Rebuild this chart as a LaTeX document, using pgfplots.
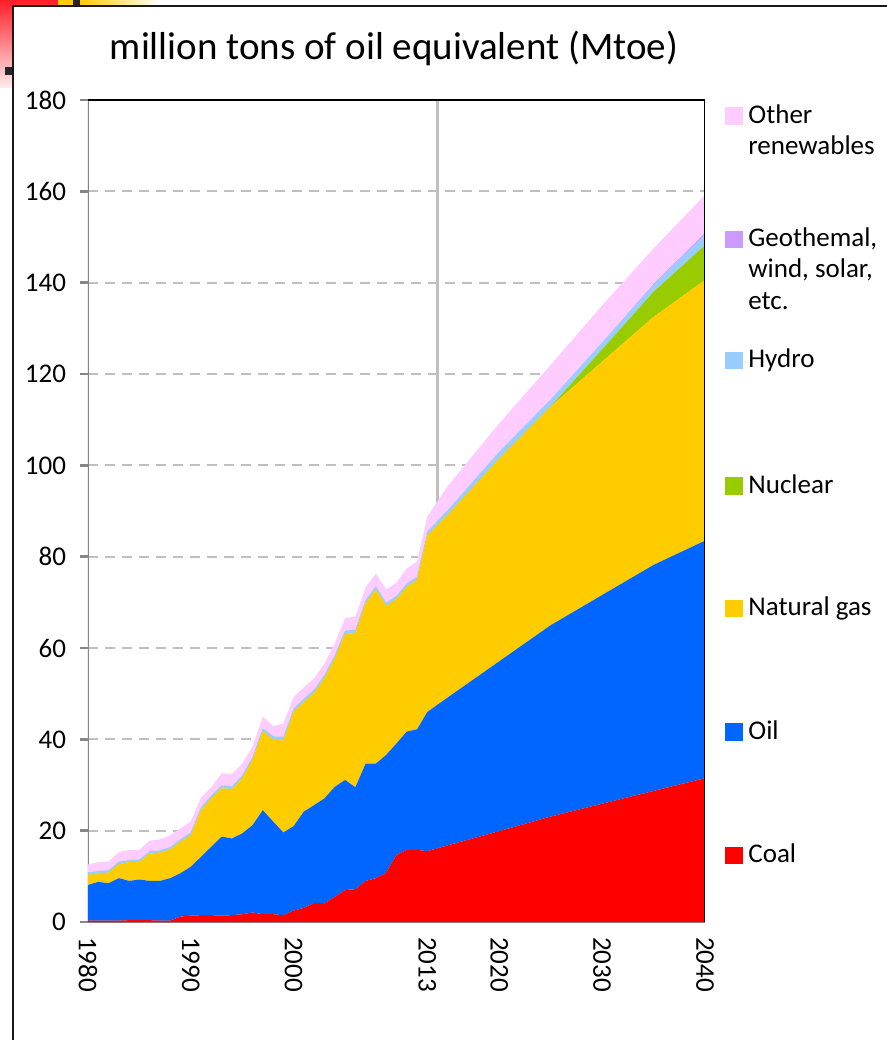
\documentclass[border=0pt]{standalone}
\usepackage{fontspec}
\setmainfont{Carlito}
\usepackage{pgfplots}
\pgfplotsset{compat=1.18}
\usepackage{pgfplotstable}

\definecolor{coal}{RGB}{255,0,0}
\definecolor{oil}{RGB}{0,102,255}
\definecolor{gas}{RGB}{255,204,0}
\definecolor{nuclear}{RGB}{153,204,0}
\definecolor{hydro}{RGB}{153,204,255}
\definecolor{geo}{RGB}{204,153,255}
\definecolor{otherren}{RGB}{255,204,255}
\definecolor{axisgray}{RGB}{134,134,134}
\definecolor{gridgray}{RGB}{191,191,191}

\pgfplotstableread{
year coal oil gas nuclear hydro geo other
1980 0.3 7.8 2.2 0 0.5 0 1.8
1981 0.3 8.5 1.9 0 0.5 0 1.9
1982 0.3 8.2 2.3 0 0.5 0 1.9
1983 0.3 9.3 3.1 0 0.5 0 2.1
1984 0.4 8.6 4.1 0 0.5 0 2.2
1985 0.4 8.9 3.9 0 0.5 0 2.1
1986 0.4 8.6 6.0 0 0.5 0 2.3
1987 0.3 8.7 6.2 0 0.5 0 2.4
1988 0.3 9.3 6.3 0 0.5 0 2.6
1989 1.2 9.5 6.9 0 0.5 0 2.4
1990 1.4 10.7 6.9 0 0.6 0 2.4
1991 1.5 12.8 10.2 0 0.6 0 2.2
1992 1.5 15.0 10.6 0 0.6 0 1.8
1993 1.4 17.3 10.6 0 0.6 0 2.7
1994 1.5 16.8 10.8 0 0.6 0 2.7
1995 1.7 17.7 12.1 0 0.6 0 2.6
1996 2.1 19.1 14.3 0 0.6 0 2.3
1997 1.7 22.8 17.3 0 0.6 0 2.6
1998 1.7 20.3 18.0 0 0.7 0 2.2
1999 1.5 18.1 20.1 0 0.8 0 3.0
2000 2.5 18.5 25.0 0 0.7 0 2.6
2001 3.1 21.1 24.0 0 0.7 0 2.5
2002 4.2 21.4 24.6 0 0.7 0 2.5
2003 4.1 23.0 26.3 0 0.7 0 2.5
2004 5.5 24.1 28.1 0 0.7 0 2.6
2005 7.0 24.1 32.0 0 0.7 0 2.7
2006 7.2 22.3 33.8 0 0.7 0 2.9
2007 9.0 25.7 35.1 0 0.7 0 2.8
2008 9.6 25.1 38.1 0 0.7 0 2.8
2009 10.8 25.8 32.6 0 0.7 0 2.9
2010 14.7 24.4 31.6 0 0.7 0 2.9
2011 15.8 25.9 31.7 0 0.7 0 3.3
2012 15.8 26.4 32.7 0 0.7 0 3.3
2013 15.5 30.5 38.7 0 0.8 0 3.3
2015 16.8 32.4 40.0 0 1.0 0 5.3
2020 19.9 37.2 44.4 0 1.5 0 6.2
2025 23.1 41.9 47.9 0 1.5 0 7.6
2030 25.9 45.7 51.1 2.7 1.5 0 8.1
2035 28.7 49.5 54.3 5.5 1.5 0.2 7.8
2040 31.5 52.0 57.1 7.6 2.3 0.4 8.3
}\data

\newcommand\lfont{\fontsize{13.5}{16}\selectfont}

\begin{document}
\begin{tikzpicture}
\path[use as bounding box] (0,0) rectangle (443.5pt,520pt);
% slide decorations
\shade[top color={rgb,255:red,255;green,30;blue,40}, bottom color={rgb,255:red,255;green,236;blue,238}] (0,476pt) rectangle (29pt,520pt);
\fill[gas] (29pt,517pt) rectangle (36.5pt,520pt);
\fill[black!85] (36.5pt,517pt) rectangle (40pt,520pt);
\shade[left color=gas, right color=white] (40pt,517pt) rectangle (80pt,520pt);
\fill[black!85] (2.5pt,482.5pt) rectangle (6pt,486.5pt);
\fill[white] (6.5pt,0) rectangle (443.5pt,517pt);
\draw[black!90, line width=1pt] (6.5pt,0) -- (6.5pt,517pt) -- (443.5pt,517pt);

\node[anchor=base, font=\fontsize{19.5}{23}\selectfont] at (197pt,490.25pt) {million tons of oil equivalent (Mtoe)};

\begin{axis}[
  at={(44pt,59pt)}, anchor=south west,
  scale only axis, width=308.5pt, height=411pt,
  xmin=1980, xmax=2040, ymin=0, ymax=180,
  stack plots=y,
  axis line style={draw=none},
  ytick={0,20,...,180},
  xtick={1980,1990,2000,2013,2020,2030,2040},
  /pgf/number format/assume math mode=true,
  /pgf/number format/1000 sep={},
  x tick label style={rotate=-90, anchor=west, font=\lfont},
  y tick label style={font=\lfont, xshift=-3.5pt},
  xtick style={draw=none},
  ytick style={draw=axisgray, line width=1.2pt},
  major tick length=4pt,
  tick align=outside,
  tick pos=left,
  ymajorgrids,
  y grid style={draw=gridgray, line width=1.1pt, dash pattern=on 5pt off 3.5pt},
  extra x ticks={2014},
  extra x tick labels={},
  extra x tick style={grid=major, x grid style={draw=gridgray, line width=1.6pt, solid}},
]
\draw[black, line width=1pt] (rel axis cs:0,1) -- (rel axis cs:1,1) -- (rel axis cs:1,0);
\addplot[fill=coal, draw=none] table[x=year, y=coal] {\data} \closedcycle;
\addplot[fill=oil, draw=none] table[x=year, y=oil] {\data} \closedcycle;
\addplot[fill=gas, draw=none] table[x=year, y=gas] {\data} \closedcycle;
\addplot[fill=nuclear, draw=none] table[x=year, y=nuclear] {\data} \closedcycle;
\addplot[fill=hydro, draw=none] table[x=year, y=hydro] {\data} \closedcycle;
\addplot[fill=geo, draw=none] table[x=year, y=geo] {\data} \closedcycle;
\addplot[fill=otherren, draw=none] table[x=year, y=other] {\data} \closedcycle;
\draw[axisgray, line width=1.4pt] (rel axis cs:0,1) -- (rel axis cs:0,0) -- (rel axis cs:1,0);
\draw[axisgray, line width=1.2pt] (rel axis cs:0,0) -- ++(0,-4pt)
  (axis cs:2014,0) -- ++(0,-4pt) (rel axis cs:1,0) -- ++(0,-4pt);
\end{axis}

% legend
\def\lsq#1#2{\fill[#1] (362.5pt,#2pt-0.7pt) rectangle (371.3pt,#2pt+8pt);}
\lsq{otherren}{458.35}
\node[anchor=base west, inner sep=0, font=\lfont] at (374pt,458.35pt) {Other};
\node[anchor=base west, inner sep=0, font=\lfont] at (374pt,442.5pt) {renewables};
\lsq{geo}{396.65}
\node[anchor=base west, inner sep=0, font=\lfont] at (374pt,396.65pt) {Geothemal,};
\node[anchor=base west, inner sep=0, font=\lfont] at (374pt,381pt) {wind, solar,};
\node[anchor=base west, inner sep=0, font=\lfont] at (374pt,365pt) {etc.};
\lsq{hydro}{336}
\node[anchor=base west, inner sep=0, font=\lfont] at (374pt,336pt) {Hydro};
\lsq{nuclear}{273.35}
\node[anchor=base west, inner sep=0, font=\lfont] at (374pt,273.35pt) {Nuclear};
\lsq{gas}{212}
\node[anchor=base west, inner sep=0, font=\lfont] at (374pt,212pt) {Natural gas};
\lsq{oil}{150.35}
\node[anchor=base west, inner sep=0, font=\lfont] at (374pt,150.35pt) {Oil};
\lsq{coal}{88.65}
\node[anchor=base west, inner sep=0, font=\lfont] at (374pt,88.65pt) {Coal};
\end{tikzpicture}
\end{document}
